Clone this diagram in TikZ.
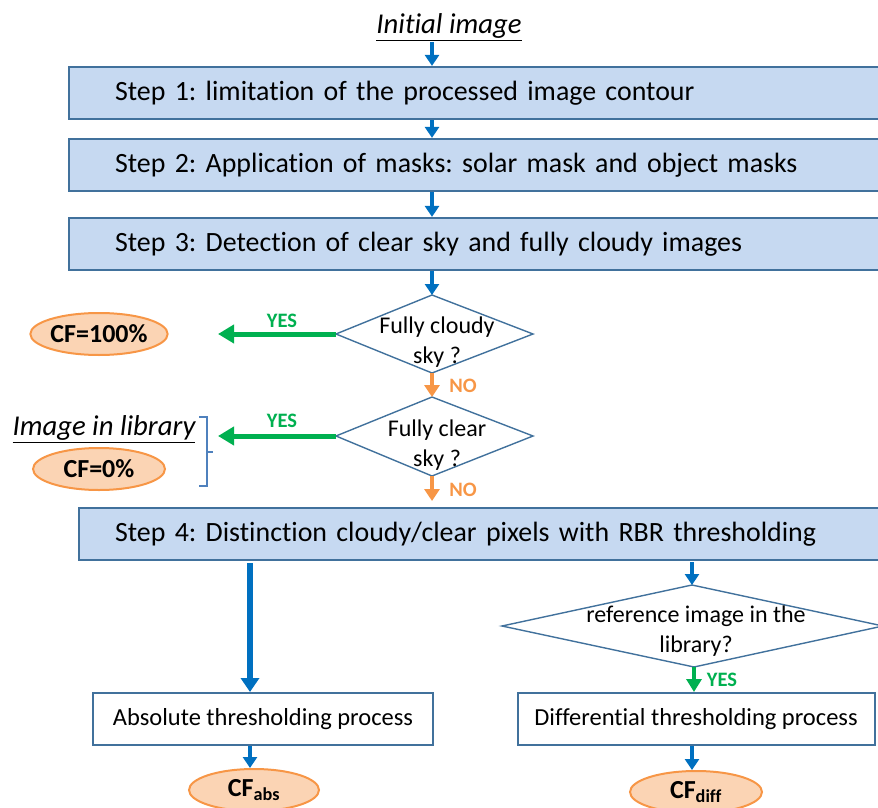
\documentclass[tikz,border=0pt]{standalone}
\usepackage{fontspec}
\setmainfont[Ligatures=NoCommon]{Carlito}
\usetikzlibrary{arrows.meta,shapes.geometric}
\definecolor{boxfill}{HTML}{C6D9F1}
\definecolor{boxline}{HTML}{41719C}
\definecolor{arblue}{HTML}{0070C0}
\definecolor{argreen}{HTML}{00B050}
\definecolor{arorange}{HTML}{F79646}
\definecolor{ovfill}{HTML}{FBD4B4}
\definecolor{brline}{HTML}{4F81BD}
\begin{document}
\frenchspacing
\begin{tikzpicture}[x=1pt,y=-1pt,
  stepbox/.style={draw=boxline, line width=2.2pt, fill=boxfill, anchor=west,
    minimum height=52pt, text width=760pt, align=left,
    font=\fontsize{27.9}{32}\selectfont},
  procbox/.style={draw=boxline, line width=2pt, fill=white,
    minimum height=52pt, font=\fontsize{24.5}{28}\selectfont},
  diam/.style={draw=boxline, line width=1.4pt},
  dtext/.style={align=center, font=\fontsize{24}{29.5}\selectfont},
  oval/.style={ellipse, draw=arorange, line width=2pt, fill=ovfill,
    minimum width=132pt, minimum height=42pt, inner sep=0pt, font=\bfseries\fontsize{26}{30}\selectfont},
  bluearrow/.style={draw=arblue, line width=4pt, -{Triangle[width=14pt,length=11pt]}},
  bigblue/.style={draw=arblue, line width=5.5pt, -{Triangle[width=18pt,length=14pt]}},
  greenarrow/.style={draw=argreen, line width=5pt, -{Triangle[width=18pt,length=16pt]}},
  smallgreen/.style={draw=argreen, line width=4.5pt, -{Triangle[width=15pt,length=13pt]}},
  orangearrow/.style={draw=arorange, line width=4pt, -{Triangle[width=15pt,length=12pt]}},
  glabel/.style={text=argreen, font=\bfseries\fontsize{20.5}{24}\selectfont},
  olabel/.style={text=arorange, font=\bfseries\fontsize{20.5}{24}\selectfont},
  ital/.style={font=\itshape\fontsize{28.7}{33}\selectfont}
]
\useasboundingbox (0,0) rectangle (878,808);
\clip (0,0) rectangle (878,808);

\coordinate (axis) at (432,0);
\coordinate (raxis) at (692,0);
\coordinate (laxis) at (250,0);

\node[ital] (init) at (449,27) {\underline{Initial image}};
\coordinate (initb) at (432,42);

\node[stepbox, inner xsep=46pt] (s1) at (68,93) {\raisebox{3pt}{Step 1: limitation of the processed image contour}};
\node[stepbox, inner xsep=46pt] (s2) at (68,165) {\raisebox{3pt}{Step 2: Application of masks: solar mask and object masks}};
\node[stepbox, inner xsep=46pt] (s3) at (68,244) {\raisebox{3pt}{Step 3: Detection of clear sky and fully cloudy images}};
\node[stepbox, inner xsep=36pt] (s4) at (78,534) {\raisebox{2pt}{Step 4: Distinction cloudy/clear pixels with RBR thresholding}};

% diamond 1
\coordinate (d1t) at (432,295);
\coordinate (d1r) at (533,334);
\coordinate (d1b) at (432,373);
\coordinate (d1l) at (336,334);
\draw[diam] (d1t) -- (d1r) -- (d1b) -- (d1l) -- cycle;
\node[dtext] (d1txt) at (437,342) {Fully cloudy\\sky ?};

% diamond 2
\coordinate (d2t) at (432,397);
\coordinate (d2r) at (533,436);
\coordinate (d2b) at (432,476);
\coordinate (d2l) at (336,436);
\draw[diam] (d2t) -- (d2r) -- (d2b) -- (d2l) -- cycle;
\node[dtext] (d2txt) at (437,445) {Fully clear\\sky ?};

% diamond 3
\coordinate (d3t) at (692,585);
\coordinate (d3r) at (883,626);
\coordinate (d3b) at (694,667);
\coordinate (d3l) at (502,626);
\draw[diam] (d3t) -- (d3r) -- (d3b) -- (d3l) -- cycle;
\node[dtext] (d3txt) at (696,631) {reference image in the\\library?};

% ovals
\node[oval] (cf100) at (99,334) {CF=100\%};
\node[oval] (cf0) at (99,469) {CF=0\%};
\node[ital] (lib) at (104,429) {\underline{Image in library}};
\coordinate (y1) at (218,334);
\coordinate (y2) at (218,436);

% bracket
\draw[brline, line width=1.2pt] (199,417) -- (207,417) -- (207,486) -- (199,486);
\draw[brline, line width=1.2pt] (207,452) -- (213,452);

% process boxes
\node[procbox, minimum width=340pt] (abs) at (263,719) {Absolute thresholding process};
\node[procbox, minimum width=357pt] (diff) at (696,719) {Differential thresholding process};
\node[oval, minimum width=130pt] (cfabs) at (254,790) {CF\textsubscript{abs}};
\node[oval, minimum width=132pt] (cfdiff) at (696,792) {CF\textsubscript{diff}};

% arrows
\draw[bluearrow] (initb) -- (s1.north -| axis);
\draw[bluearrow] (s1.south -| axis) -- (s2.north -| axis);
\draw[bluearrow] (s2.south -| axis) -- (s3.north -| axis);
\draw[bluearrow] (s3.south -| axis) -- (d1t);
\draw[orangearrow] (d1b) -- (d2t);
\node[olabel] (no1) at (463,386) {NO};
\coordinate (s4top) at (432,501);
\draw[orangearrow] (d2b) -- (s4top);
\node[olabel] (no2) at (463,490) {NO};
\draw[greenarrow] (d1l) -- (y1);
\node[glabel] (yes1) at (282,321) {YES};
\draw[greenarrow] (d2l) -- (y2);
\node[glabel] (yes2) at (282,421) {YES};

\draw[bigblue] (s4.south -| laxis) ++(0,2) -- (abs.north -| laxis);
\draw[bluearrow] (abs.south -| laxis) -- (cfabs.north -| laxis);
\draw[bluearrow] (s4.south -| raxis) ++(0,1) -- (d3t);
\draw[smallgreen] (d3b) -- (diff.north -| d3b);
\node[glabel] (yes3) at (722,680) {YES};
\draw[bluearrow] (diff.south -| raxis) -- (cfdiff.north -| raxis);
\end{tikzpicture}
\end{document}
